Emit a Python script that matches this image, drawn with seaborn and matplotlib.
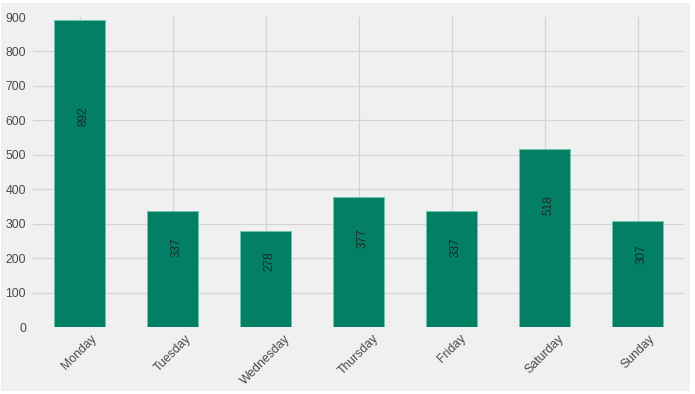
import matplotlib
matplotlib.use("Agg")
import matplotlib.pyplot as plt
import seaborn as sns
import pandas as pd
from matplotlib.patches import Rectangle

days = ["Monday", "Tuesday", "Wednesday", "Thursday", "Friday", "Saturday", "Sunday"]
counts = [892, 337, 278, 377, 337, 518, 307]
yticks = [0, 100, 200, 300, 400, 500, 600, 700, 800, 900]

df = pd.DataFrame({"day": days, "count": counts})

sns.set_style("whitegrid")
plt.rcParams["font.family"] = ["Liberation Sans", "DejaVu Sans"]

W, H = 695, 394
fig = plt.figure(figsize=(W / 100, H / 100), dpi=100, facecolor="white")
bg = Rectangle((1 / W, (H - 391) / H), 689 / W, 388 / H,
               transform=fig.transFigure, facecolor="#f0f0f0",
               edgecolor="none", zorder=-10)
fig.add_artist(bg)
ax = fig.add_axes([33 / W, (H - 327) / H, 651 / W, 310 / H])
ax.set_zorder(1)
ax.set_facecolor("#f0f0f0")

bar_w = 0.54
sns.barplot(data=df, x="day", y="count", order=days, color="#027f64",
            saturation=1, width=bar_w, edgecolor="#6cc4a6", linewidth=0.7,
            ax=ax, zorder=3)

for i, v in enumerate(counts):
    ax.annotate(str(v), xy=(i, v * 0.685), xytext=(3, 0),
                textcoords="offset points", rotation=90,
                ha="center", va="center", fontsize=8.5, color="#1c2b26",
                zorder=4)

ax.set_xlim(-0.5, len(days) - 0.5)
ax.set_ylim(0, 900)
ax.set_yticks(yticks)
ax.set_yticklabels([str(t) for t in yticks])
ax.set_xticks(range(len(days)))
ax.set_xticklabels(days, rotation=45)
ax.set_xlabel("")
ax.set_ylabel("")
ax.grid(True, color="#d4d4d4", linewidth=0.9, zorder=0)
ax.set_axisbelow(True)
ax.yaxis.get_gridlines()[-1].set_visible(False)
for s in ax.spines.values():
    s.set_visible(False)
ax.tick_params(axis="both", length=0, labelsize=8.8, colors="#4a4a4a")
ax.tick_params(axis="y", pad=5)
ax.tick_params(axis="x", pad=4)

fig.savefig("out.png", dpi=100, facecolor=fig.get_facecolor())
